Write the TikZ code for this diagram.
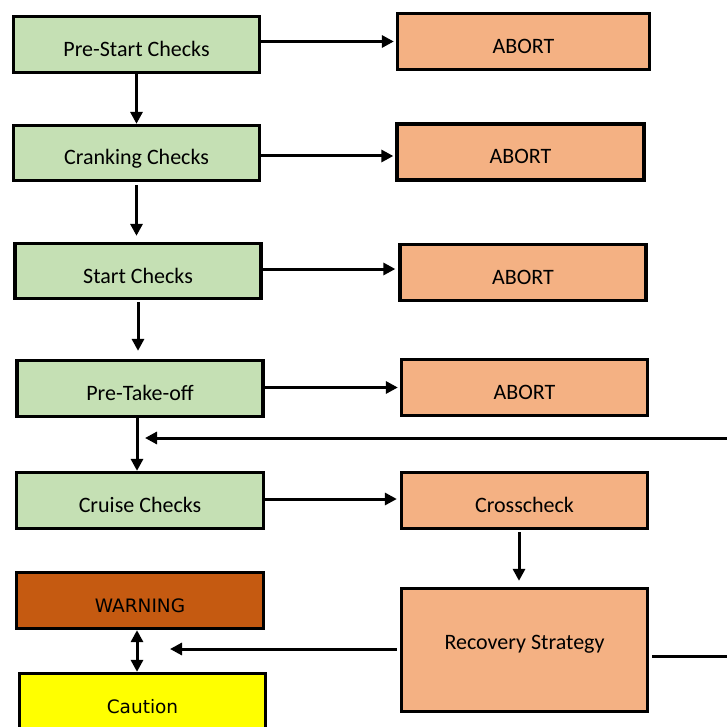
\documentclass[tikz,border=0pt]{standalone}
\usepackage{fontspec}
\setmainfont{Carlito}
\newfontfamily\dejavu{DejaVu Sans}
\usetikzlibrary{arrows.meta,calc}
\definecolor{boxgreen}{HTML}{C5E0B4}
\definecolor{boxorange}{HTML}{F4B183}
\definecolor{boxwarn}{HTML}{C55A11}
\definecolor{boxyellow}{HTML}{FFFF00}
\tikzset{
  box/.style={draw=black, line width=3.3pt, rectangle, inner sep=2pt,
    font=\fontsize{22}{24}\selectfont, text height=24pt, text depth=0pt,
    minimum width=246pt, minimum height=56pt},
  greenbox/.style={box, fill=boxgreen},
  orangebox/.style={box, fill=boxorange},
  dvbox/.style={box, font=\dejavu\fontsize{18.5}{22}\selectfont, text height=23pt},
  conn/.style={line width=3pt, draw=black, -{Triangle[length=12pt,width=12pt]}},
}
\begin{document}
\begin{tikzpicture}[x=1pt,y=-1pt]
\useasboundingbox (0,0) rectangle (727,727);
% left column
\node[greenbox] (ps) at (136.5,44.5) {Pre-Start Checks};
\node[greenbox, minimum height=55pt] (cr) at (136.5,153) {Cranking Checks};
\node[greenbox, minimum height=55pt] (st) at (138,271) {Start Checks};
\node[greenbox, minimum height=56pt] (pt) at (140,388.5) {Pre-Take-off};
\node[greenbox, minimum width=247pt] (cc) at (140,500.5) {Cruise Checks};
\node[dvbox, fill=boxwarn, minimum width=247pt] (wa) at (140,600.5) {WARNING};
\node[dvbox, fill=boxyellow] (ca) at (142.5,701.5) {Caution};
% right column
\node[orangebox, minimum width=252pt] (a1) at (523.5,41.5) {ABORT};
\node[orangebox, minimum width=247pt] (a2) at (520.5,152) {ABORT};
\node[orangebox] (a3) at (523,272.5) {ABORT};
\node[orangebox] (a4) at (524.5,387.5) {ABORT};
\node[orangebox] (xc) at (524.5,500.5) {Crosscheck};
\node[orangebox, minimum height=123pt, text height=10pt, text depth=12pt] (rs) at (524.5,650) {Recovery Strategy};
% free ends
\coordinate (loopR) at (740,438);
\coordinate (loopT) at (145,438);
\coordinate (wcT) at (170,649);
% horizontal connectors
\draw[conn, shorten >=2pt] (ps.east |- a1.west) -- (a1.west);
\draw[conn, shorten >=2pt] ([yshift=-3pt]cr.east) -- ([yshift=-3pt]cr.east -| a2.west);
\draw[conn, shorten >=3pt] ([yshift=2pt]st.east) -- ([yshift=2pt]st.east -| a3.west);
\draw[conn, shorten >=2pt] (pt.east |- a4.west) -- (a4.west);
\draw[conn, shorten >=3pt] ([yshift=1.5pt]cc.east) -- ([yshift=1.5pt]cc.east -| xc.west);
% vertical connectors
\draw[conn] (ps.south) -- (cr.north);
\draw[conn, shorten <=3pt, shorten >=6pt] (cr.south) -- (cr.south |- st.north);
\draw[conn, shorten <=2pt, shorten >=8pt] (st.south) -- (st.south |- pt.north);
\draw[conn] ([xshift=-3pt]pt.south) -- ([xshift=-3pt]pt.south |- cc.north);
\draw[conn, shorten <=2pt, shorten >=6pt] ([xshift=-5.5pt]xc.south) -- ([xshift=-5.5pt]xc.south |- rs.north);
\draw[line width=3pt, {Triangle[length=12pt,width=12pt]}-{Triangle[length=12pt,width=12pt]}] ([xshift=-3pt]wa.south) -- ([xshift=-3pt]wa.south |- ca.north);
% recovery connectors
\draw[conn, shorten <=3pt] ([yshift=1pt]rs.west) -- (wcT);
\draw[conn, shorten <=3pt] ([yshift=-6pt]rs.east) -- ([yshift=-6pt]rs.east -| loopR) -- (loopR) -- (loopT);
\end{tikzpicture}
\end{document}
